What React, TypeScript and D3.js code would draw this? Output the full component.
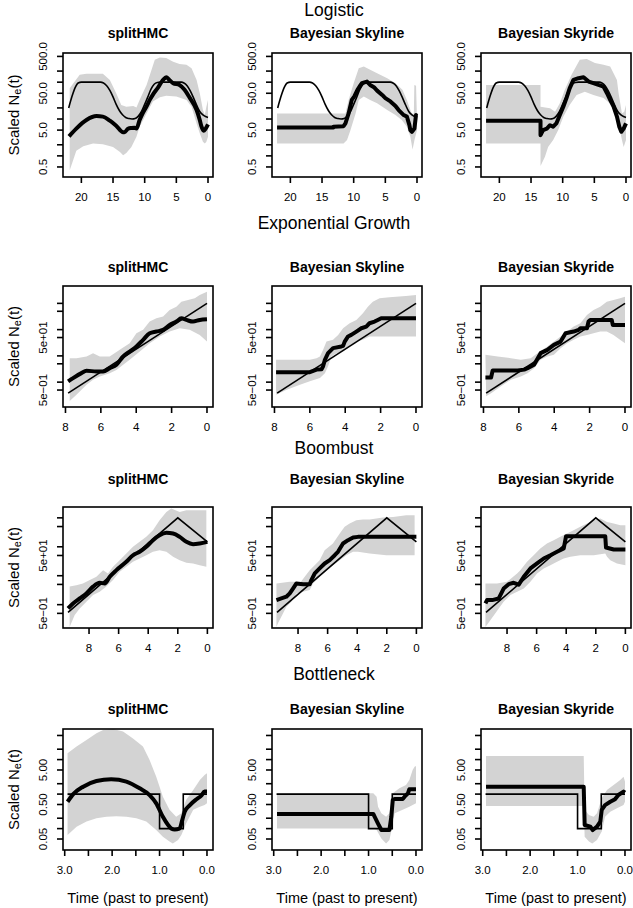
import React from "react";
import * as d3 from "d3";

type Pt = [number, number];

// ---------------- Data (time before present, scaled Ne) ----------------
const rowTitles = ["Logistic", "Exponential Growth", "Boombust", "Bottleneck"];
const methodTitles = ["splitHMC", "Bayesian Skyline", "Bayesian Skyride"];

// Logistic
const logisticTrue: Pt[] = [[22,20],[21.5,40],[21,70],[20.5,95],[20,100],[17,100],[16.5,95],[16,80],[15.5,60],[15,40],[14.5,25],[14,17],[13.5,13],[13,11],[12.5,10.3],[12,10],[11.5,10.3],[11,12],[10.5,16],[10,25],[9.5,40],[9,65],[8.5,88],[8,98],[7.5,100],[4.2,100],[3.8,95],[3.3,80],[2.8,58],[2.3,38],[1.8,24],[1.3,16],[0.8,13],[0.3,11.5],[0,11]];
const logisticSplitMean: Pt[] = [[21.95,3.4],[20.8,5.5],[19.2,9.4],[17.6,12],[16.6,11.6],[15.5,9.0],[14.5,6.6],[13.4,4.4],[13.2,4.4],[12.6,5.5],[12.1,5.7],[11.6,5.8],[11.3,5.5],[10.8,9.4],[10.3,14.5],[9.7,22],[9.2,33],[8.7,46],[7.9,71],[7.1,115],[6.6,136],[6.1,115],[5.5,94],[4.5,84],[3.7,62],[2.9,38],[1.8,17.5],[1.3,9.4],[1.05,6.4],[0.7,4.8],[0.37,5.5],[0,7.2]];
const logisticSplitUpper: Pt[] = [[21.84,68],[20.26,158],[19.2,168],[16.6,168],[15.5,115],[14.5,50],[13.7,24],[12.9,21.6],[11.8,22.6],[11.3,20.7],[10.8,33],[9.7,84],[8.4,406],[7.6,470],[6.6,451],[5.5,360],[4.5,310],[3.4,296],[2.6,240],[1.8,115],[1.3,50],[0.8,17.5],[0.5,12.8],[0.26,21.6],[0,33]];
const logisticSplitLower: Pt[] = [[21.84,0.41],[21.3,0.76],[20.8,1.37],[19.7,1.83],[18.16,2.16],[16.6,2.08],[15.0,1.75],[13.9,1.28],[13.4,1.04],[12.9,1.2],[12.1,1.75],[11.3,3.3],[10.8,6.2],[9.7,14.2],[8.7,30],[7.6,39],[6.6,43],[5.0,41],[3.4,33],[2.6,21.6],[1.8,7.6],[1.3,4.1],[0.8,2.4],[0.5,2.16],[0.26,2.4],[0,3.3]];
const logisticSkylineMean: Pt[] = [[22.1,5.9],[13.2,5.9],[13.2,6.2],[11.6,6.4],[11.3,7.6],[10.8,14.2],[10.3,33],[9.9,41],[9.4,62],[8.9,84],[8.7,94],[7.9,104],[7.4,84],[6.8,73],[6.3,59],[5.5,45],[5.0,37],[4.2,30],[3.4,22.6],[2.9,17.5],[2.1,12.8],[1.6,11.6],[1.2,6.8],[1.05,5.0],[0.8,4.5],[0.4,5.5],[0.16,12.8],[0,12.2]];
const logisticSkylineUpper: Pt[] = [[22.1,14.2],[11.3,14.2],[10.8,33],[10.0,94],[9.2,240],[8.4,267],[7.4,216],[6.3,175],[4.7,128],[3.4,94],[2.3,62],[1.6,33],[1.05,17.5],[0.8,14.2],[0.5,14],[0.42,84],[0.15,80],[0.05,20],[0,8]];
const logisticSkylineLower: Pt[] = [[22.1,2.16],[11.6,2.16],[11.05,2.7],[10.5,5.0],[9.7,14.2],[9.2,33],[8.4,41],[7.4,33],[6.3,27],[4.7,17.5],[3.4,12.8],[2.4,9.4],[1.6,6.2],[1.05,3.3],[0.7,1.5],[0.4,2.7],[0,5.0]];
const logisticSkyrideMean: Pt[] = [[22.1,9.0],[13.5,9.0],[13.5,3.65],[13.1,5.0],[12.5,5.5],[12.0,6.8],[11.5,6.2],[11.0,7.6],[10.45,12.8],[9.9,21.6],[9.4,37],[8.9,68],[8.3,115],[7.5,128],[6.7,136],[5.9,104],[5.15,94],[4.35,84],[3.55,76],[3.0,50],[2.5,33],[1.96,21.6],[1.43,11.6],[1.06,6.2],[0.74,4.5],[0.37,5.5],[0,7.6]];
const logisticSkyrideUpper: Pt[] = [[22.1,84],[13.5,84],[13.5,21.6],[12.0,19.5],[11.2,15.8],[10.45,27],[9.66,62],[8.6,158],[7.3,406],[6.2,423],[4.9,329],[3.55,296],[2.5,267],[1.43,115],[1.17,50],[0.64,14.2],[0.27,15.8],[0,24]];
const logisticSkyrideLower: Pt[] = [[22.1,2.16],[13.5,2.16],[13.5,0.53],[12.8,0.94],[12.3,1.75],[11.5,2.7],[10.7,5.0],[9.9,11.6],[8.9,24],[7.8,45],[6.5,55],[5.15,45],[3.55,37],[1.96,21.6],[1.17,7.6],[0.64,2.7],[0.37,1.75],[0,2.7]];

// Exponential growth
const expTrue: Pt[] = [[7.85,0.38],[0,1005]];
const expSplitMean: Pt[] = [[7.85,1.07],[7.57,1.43],[7.1,2.2],[6.81,2.7],[6.25,2.56],[5.87,2.56],[5.5,3.4],[5.12,4.6],[4.74,9.5],[4.37,14.7],[3.99,22.8],[3.61,41],[3.24,73],[2.86,84.5],[2.48,98],[2.11,151],[1.73,203],[1.45,271],[1.16,234],[0.79,203],[0.41,234],[0,248]];
const expSplitUpper: Pt[] = [[7.76,8.2],[7.38,8.2],[6.81,9.5],[6.44,12.7],[6.06,9.5],[5.5,9.5],[4.93,17.0],[4.37,30.5],[3.99,73],[3.61,98],[3.24,203],[2.86,271],[2.48,313],[2.11,560],[1.73,750],[1.45,1160],[1.07,1350],[0.69,1560],[0.41,2090],[0,2790]];
const expSplitLower: Pt[] = [[7.76,0.19],[7.38,0.33],[6.81,0.8],[6.44,1.23],[6.06,1.65],[5.5,2.2],[5.12,2.9],[4.74,4.6],[4.37,7.1],[3.8,14.7],[3.24,30.5],[2.67,55],[2.11,84.5],[1.54,113],[0.98,98],[0.41,63],[0,35]];
const expSkylineMean: Pt[] = [[7.91,2.4],[6.0,2.4],[5.62,3.0],[5.34,3.1],[5.25,4.0],[5.15,7.1],[4.97,12.7],[4.69,19.7],[4.22,22.8],[4.12,24.1],[4.03,35],[3.84,55],[3.66,63],[3.37,84.5],[3.09,113],[2.81,131],[2.63,175],[2.34,203],[2.16,234],[1.97,271],[0,271]];
const expSkylineUpper: Pt[] = [[7.91,7.1],[6.0,7.1],[5.62,8.2],[5.43,9.5],[5.25,17.0],[5.06,35],[4.69,41],[4.4,63],[4.12,113],[3.75,175],[3.37,234],[3.0,420],[2.72,750],[2.44,1160],[2.06,1560],[1.5,1700],[1.13,1800],[0.57,1910],[0,2090]];
const expSkylineLower: Pt[] = [[7.91,0.33],[7.31,0.51],[6.56,0.8],[6.0,1.07],[5.43,1.43],[5.15,2.2],[4.97,4.0],[4.78,9.5],[4.5,12.7],[4.12,14.7],[3.75,22.8],[3.37,35],[3.0,41],[2.63,55],[0,55]];
const expSkyrideMean: Pt[] = [[7.89,1.5],[7.57,1.5],[7.48,2.8],[6.07,2.8],[5.7,3.0],[5.51,3.4],[5.14,4.6],[4.77,12.7],[4.39,17.0],[4.02,26.3],[3.64,35],[3.36,73],[2.9,84.5],[2.62,98],[2.52,113],[2.15,113],[2.06,203],[1.96,234],[0.75,234],[0.69,151],[0,151]];
const expSkyrideUpper: Pt[] = [[7.89,11.0],[7.2,9.5],[6.45,8.2],[5.89,7.1],[5.33,8.2],[4.95,12.7],[4.39,22.8],[4.02,35],[3.64,55],[3.27,84.5],[2.9,131],[2.52,175],[2.15,360],[1.78,560],[1.4,750],[1.03,1160],[0.65,1350],[0.28,1560],[0,1800]];
const expSkyrideLower: Pt[] = [[7.85,0.29],[7.57,0.38],[7.01,0.69],[6.45,1.23],[5.89,1.65],[5.51,2.2],[5.14,3.4],[4.77,7.1],[4.39,9.5],[4.02,11.0],[3.64,19.7],[3.27,30.5],[2.9,41],[2.52,55],[2.15,63],[1.78,73],[1.4,84.5],[1.03,84.5],[0.65,63],[0.28,41],[0,30.5]];

// Boombust
const boomTrue: Pt[] = [[9.42,0.54],[2.0,1000],[0,148]];
const boomSplitMean: Pt[] = [[9.42,0.74],[9.08,1.1],[8.63,1.64],[8.18,2.45],[7.73,4.2],[7.28,5.7],[6.94,5.4],[6.6,9.2],[6.15,15.6],[5.48,30.3],[5.03,51],[4.58,67],[4.13,100],[3.68,169],[3.23,251],[2.77,303],[2.32,287],[1.87,220],[1.42,148],[0.97,123],[0.52,130],[0,148]];
const boomSplitUpper: Pt[] = [[9.31,4.2],[8.86,4.7],[8.41,5.4],[7.95,7.05],[7.5,9.2],[7.28,12.0],[7.05,15.6],[6.72,12.0],[6.38,20.3],[5.93,34.5],[5.48,59],[5.03,100],[4.58,148],[4.13,220],[3.68,374],[3.23,826],[2.77,1600],[2.44,2090],[1.87,1600],[1.42,1830],[0.97,1830],[0.52,1830],[0.07,1830]];
const boomSplitLower: Pt[] = [[9.31,0.17],[8.97,0.44],[8.63,0.74],[8.18,1.26],[7.73,2.14],[7.28,2.8],[6.83,4.2],[6.38,7.05],[5.93,13.7],[5.48,20.3],[5.03,30.3],[4.58,39.4],[4.13,51],[3.68,67],[3.23,76],[2.77,67],[2.32,45],[1.87,34.5],[1.42,28],[0.97,26.5],[0.52,23.2],[0.07,20.3]];
const boomSkylineMean: Pt[] = [[9.46,1.44],[9.13,1.64],[8.79,1.88],[8.56,2.45],[8.34,3.6],[8.11,5.4],[7.66,5.1],[7.21,5.1],[7.1,7.05],[6.87,12.0],[6.54,17.8],[6.2,26.5],[5.86,34.5],[5.52,51],[5.3,67],[4.96,130],[4.62,169],[4.28,209],[3.95,220],[0,220]];
const boomSkylineUpper: Pt[] = [[9.46,5.4],[8.56,6.2],[8.11,6.2],[7.89,5.4],[7.55,9.2],[7.21,15.6],[6.54,34.5],[6.2,76],[5.64,130],[5.18,287],[4.85,488],[4.51,635],[4.06,826],[3.61,870],[3.16,870],[2.71,945],[2.26,1020],[1.58,1080],[0.68,1230],[0.12,1230]];
const boomSkylineLower: Pt[] = [[9.46,0.17],[9.35,0.23],[9.13,0.38],[8.79,0.85],[8.45,1.26],[8.11,2.45],[7.66,2.8],[7.21,3.2],[6.99,5.4],[6.54,9.2],[6.09,15.6],[5.64,23.2],[5.18,34.5],[4.73,51],[4.28,67],[3.95,67],[3.16,59],[2.03,51],[0.9,51],[0.12,51]];
const boomSkyrideMean: Pt[] = [[9.46,1.1],[9.35,1.44],[9.01,1.44],[8.56,1.64],[8.23,3.6],[7.89,5.1],[7.55,5.7],[7.21,4.9],[6.87,9.2],[6.42,17.8],[5.97,26.5],[5.52,39.4],[5.07,51],[4.62,67],[4.17,87],[4.06,169],[4.01,232],[1.36,232],[1.31,94],[0.79,80.5],[0,80.5]];
const boomSkyrideUpper: Pt[] = [[9.46,5.4],[8.68,5.4],[8.0,6.2],[7.32,12.0],[7.1,15.6],[6.65,30.3],[6.2,51],[5.75,87],[5.3,130],[4.85,169],[4.4,220],[3.95,287],[3.5,374],[3.05,488],[2.59,635],[2.14,826],[1.69,945],[1.24,725],[0.79,635],[0.34,556],[0,556]];
const boomSkyrideLower: Pt[] = [[9.46,0.17],[9.13,0.29],[8.68,0.6],[8.23,1.26],[7.77,2.14],[7.32,2.8],[6.87,3.6],[6.42,6.2],[5.97,12.0],[5.52,17.8],[5.07,23.2],[4.62,30.3],[4.17,39.4],[3.72,45],[3.05,51],[2.14,51],[1.36,59],[1.24,45],[1.02,34.5],[0.57,26.5],[0,23.2]];

// Bottleneck
const bottleTrue: Pt[] = [[2.94,1],[1,1],[1,0.1],[0.5,0.1],[0.5,1],[0,1]];
const bottleSplitMean: Pt[] = [[2.94,0.6],[2.82,1.0],[2.61,1.64],[2.33,2.4],[2.02,2.7],[1.7,2.3],[1.42,1.47],[1.21,0.94],[1.07,0.54],[0.93,0.22],[0.82,0.127],[0.75,0.1],[0.68,0.095],[0.58,0.1],[0.52,0.18],[0.47,0.31],[0.36,0.48],[0.22,0.71],[0.12,0.9],[0.05,1.18],[0,1.18]];
const bottleSplitUpper: Pt[] = [[2.94,15.2],[2.75,24],[2.54,37],[2.33,58],[2.19,72],[1.98,77],[1.77,65],[1.56,41],[1.35,24],[1.21,9.7],[1.07,3.2],[0.93,0.84],[0.79,0.35],[0.65,0.22],[0.54,0.28],[0.44,0.67],[0.29,1.32],[0.15,2.56],[0.05,3.6],[0,4.0]];
const bottleSplitLower: Pt[] = [[2.94,0.065],[2.75,0.114],[2.54,0.16],[2.33,0.2],[2.12,0.22],[1.91,0.23],[1.7,0.22],[1.49,0.2],[1.28,0.16],[1.07,0.091],[0.93,0.058],[0.79,0.042],[0.72,0.037],[0.61,0.047],[0.54,0.065],[0.44,0.14],[0.29,0.35],[0.15,0.43],[0.05,0.48],[0,0.54]];
const bottleSkylineMean: Pt[] = [[2.93,0.265],[0.9,0.265],[0.87,0.22],[0.8,0.14],[0.73,0.091],[0.56,0.091],[0.52,0.22],[0.49,0.67],[0.45,0.72],[0.28,0.72],[0.24,0.84],[0.17,1.05],[0.14,1.38],[0,1.38]];
const bottleSkylineUpper: Pt[] = [[2.93,1.05],[0.9,1.05],[0.83,0.84],[0.8,0.43],[0.73,0.28],[0.63,0.22],[0.56,0.28],[0.49,1.05],[0.35,1.47],[0.21,1.84],[0.14,2.56],[0.07,5.0],[0.03,6.2],[0,6.5]];
const bottleSkylineLower: Pt[] = [[2.93,0.1],[0.9,0.1],[0.83,0.091],[0.73,0.052],[0.63,0.037],[0.56,0.047],[0.5,0.114],[0.45,0.28],[0.28,0.35],[0.14,0.43],[0,0.54]];
const bottleSkyrideMean: Pt[] = [[2.93,1.64],[0.87,1.64],[0.85,0.127],[0.73,0.114],[0.68,0.091],[0.59,0.114],[0.52,0.16],[0.49,0.35],[0.42,0.48],[0.31,0.6],[0.21,0.71],[0.14,0.94],[0.03,1.18],[0,1.1]];
const bottleSkyrideUpper: Pt[] = [[2.93,12.7],[0.87,12.7],[0.85,0.35],[0.76,0.25],[0.66,0.22],[0.59,0.28],[0.49,0.76],[0.38,1.32],[0.24,1.84],[0.1,2.56],[0.03,3.2],[0,2.3]];
const bottleSkyrideLower: Pt[] = [[2.93,0.45],[0.87,0.45],[0.85,0.058],[0.76,0.042],[0.69,0.037],[0.59,0.047],[0.49,0.082],[0.42,0.22],[0.31,0.31],[0.17,0.39],[0.03,0.48],[0,0.6]];

// Axis ticks
const xTicksLogistic = [20, 15, 10, 5, 0];
const xTicksExp = [8, 6, 4, 2, 0];
const xTicksBoom = [8, 6, 4, 2, 0];
const xTicksBottle = [3, 2.5, 2, 1.5, 1, 0.5, 0];
const xLabelsBottle = [3, 2, 1, 0];
const yTicksLogistic = [0.5, 1, 2, 5, 10, 20, 50, 100, 200, 500];
const yLabelsLogistic: [number, string][] = [[0.5, "0.5"], [5, "5.0"], [50, "50.0"], [500, "500.0"]];
const yTicksExp = [0.5, 1, 5, 10, 50, 100, 500, 1000];
const yLabelsExp: [number, string][] = [[0.5, "5e\u221201"], [50, "5e+01"]];
const yTicksBottle = [0.05, 0.1, 0.2, 0.5, 1, 2, 5, 10, 20, 50];
const yLabelsBottle: [number, string][] = [[0.05, "0.05"], [0.5, "0.50"], [5, "5.00"]];

// ---------------- Assembly ----------------
type Series = { mean: Pt[]; upper: Pt[]; lower: Pt[] };
const panelData: Series[][] = [
  [
    { mean: logisticSplitMean, upper: logisticSplitUpper, lower: logisticSplitLower },
    { mean: logisticSkylineMean, upper: logisticSkylineUpper, lower: logisticSkylineLower },
    { mean: logisticSkyrideMean, upper: logisticSkyrideUpper, lower: logisticSkyrideLower },
  ],
  [
    { mean: expSplitMean, upper: expSplitUpper, lower: expSplitLower },
    { mean: expSkylineMean, upper: expSkylineUpper, lower: expSkylineLower },
    { mean: expSkyrideMean, upper: expSkyrideUpper, lower: expSkyrideLower },
  ],
  [
    { mean: boomSplitMean, upper: boomSplitUpper, lower: boomSplitLower },
    { mean: boomSkylineMean, upper: boomSkylineUpper, lower: boomSkylineLower },
    { mean: boomSkyrideMean, upper: boomSkyrideUpper, lower: boomSkyrideLower },
  ],
  [
    { mean: bottleSplitMean, upper: bottleSplitUpper, lower: bottleSplitLower },
    { mean: bottleSkylineMean, upper: bottleSkylineUpper, lower: bottleSkylineLower },
    { mean: bottleSkyrideMean, upper: bottleSkyrideUpper, lower: bottleSkyrideLower },
  ],
];
const truths = [logisticTrue, expTrue, boomTrue, bottleTrue];
const xTickSets = [xTicksLogistic, xTicksExp, xTicksBoom, xTicksBottle];
const xLabelSets = [xTicksLogistic, xTicksExp, xTicksBoom, xLabelsBottle];
const yTickSets = [yTicksLogistic, yTicksExp, yTicksExp, yTicksBottle];
const yLabelSets = [yLabelsLogistic, yLabelsExp, yLabelsExp, yLabelsBottle];

// ---------------- Layout ----------------
const W = 633;
const H = 908;
const FONT = "'Liberation Sans', Arial, Helvetica, sans-serif";
const colLeft = [63, 272, 481];
const boxW = 150;
const rowLayout = [
  { title: 10, head: 33, top: 53, bottom: 177, xdom: [22.9, -0.79], ydom: [0.267, 619] },
  { title: 223, head: 267, top: 286, bottom: 407, xdom: [8.14, -0.34], ydom: [0.113, 4590] },
  { title: 448, head: 479, top: 507, bottom: 628, xdom: [9.76, -0.38], ydom: [0.156, 2370] },
  { title: 674, head: 709, top: 729, bottom: 850, xdom: [3.036, -0.127], ydom: [0.024, 77] },
];

function fmtX(r: number, v: number) {
  return r === 3 ? v.toFixed(1) : String(v);
}

function Panel({ r, c }: { r: number; c: number }) {
  const L = rowLayout[r];
  const left = colLeft[c];
  const right = left + boxW;
  const x = d3.scaleLinear().domain(L.xdom).range([left, right]);
  const y = d3.scaleLog().domain(L.ydom).range([L.bottom, L.top]);
  const s = panelData[r][c];
  const lin = d3.line<Pt>().x((p) => x(p[0])).y((p) => y(p[1]));
  const smooth = d3.line<Pt>().x((p) => x(p[0])).y((p) => y(p[1])).curve(d3.curveMonotoneX);
  const band = lin([...s.upper, ...s.lower.slice().reverse()]) + "Z";
  const truthPath = r === 0 ? smooth(truths[r]) : lin(truths[r]);
  const meanPath = c === 0 ? smooth(s.mean) : lin(s.mean);
  const clipId = `clip-${r}-${c}`;
  const cx = (left + right) / 2;
  return (
    <g>
      <defs>
        <clipPath id={clipId}>
          <rect x={left} y={L.top} width={boxW} height={L.bottom - L.top} />
        </clipPath>
      </defs>
      <g clipPath={`url(#${clipId})`}>
        <path d={band} fill="#d3d3d3" stroke="none" />
        <path d={truthPath || ""} fill="none" stroke="#000" strokeWidth={1.6} />
        <path d={meanPath || ""} fill="none" stroke="#000" strokeWidth={4} strokeLinejoin="round" />
      </g>
      <rect x={left} y={L.top} width={boxW} height={L.bottom - L.top} fill="none" stroke="#000" strokeWidth={1.6} />
      {xTickSets[r].map((t) => (
        <line key={"xt" + t} x1={x(t)} x2={x(t)} y1={L.bottom} y2={L.bottom + 6} stroke="#000" strokeWidth={1.6} />
      ))}
      {xLabelSets[r].map((t) => (
        <text key={"xl" + t} x={x(t)} y={L.bottom + 20} textAnchor="middle" dominantBaseline="central" fontSize={11.5}>
          {fmtX(r, t)}
        </text>
      ))}
      {yTickSets[r].map((v) => (
        <line key={"yt" + v} x1={left - 6} x2={left} y1={y(v)} y2={y(v)} stroke="#000" strokeWidth={1.6} />
      ))}
      {yLabelSets[r].map(([v, lab]) => (
        <text
          key={"yl" + v}
          transform={`translate(${left - 20},${y(v)}) rotate(-90)`}
          textAnchor="middle"
          dominantBaseline="central"
          fontSize={11.5}
        >
          {lab}
        </text>
      ))}
      <text x={cx} y={L.head} textAnchor="middle" dominantBaseline="central" fontSize={14} fontWeight="bold">
        {methodTitles[c]}
      </text>
      {c === 0 && (
        <text
          transform={`translate(13,${(L.top + L.bottom) / 2}) rotate(-90)`}
          textAnchor="middle"
          dominantBaseline="central"
          fontSize={15}
        >
          Scaled N<tspan fontSize={11} dy={4}>e</tspan>
          <tspan dy={-4}>(t)</tspan>
        </text>
      )}
      {r === 3 && (
        <text x={cx} y={898} textAnchor="middle" dominantBaseline="central" fontSize={14.5}>
          Time (past to present)
        </text>
      )}
    </g>
  );
}

export default function App() {
  return (
    <svg
      width={W}
      height={H}
      viewBox={`0 0 ${W} ${H}`}
      style={{ position: "absolute", left: 0, top: 0, background: "#fff" }}
      fontFamily={FONT}
    >
      <rect x={0} y={0} width={W} height={H} fill="#fff" />
      {rowTitles.map((t, r) => (
        <text key={t} x={334} y={rowLayout[r].title} textAnchor="middle" dominantBaseline="central" fontSize={17.5}>
          {t}
        </text>
      ))}
      {rowLayout.map((_, r) =>
        [0, 1, 2].map((c) => <Panel key={`${r}-${c}`} r={r} c={c} />)
      )}
    </svg>
  );
}
